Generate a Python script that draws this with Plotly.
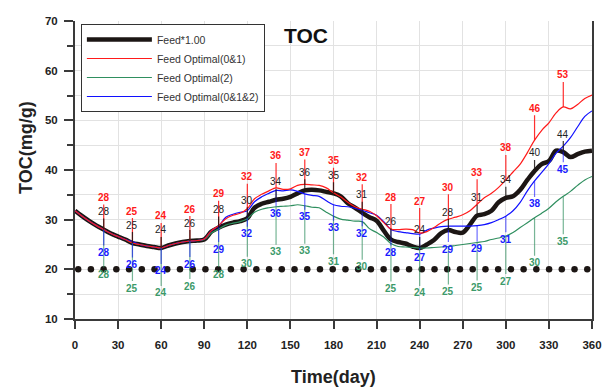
import numpy as np
import plotly.graph_objects as go

# Sampling days (every 5 days over one year)
days = list(range(0, 361, 5))

# TOC (mg/g) for each feeding strategy
feed_base = [31.8, 30.7, 29.7, 28.8, 28.0, 27.2, 26.6, 26.0, 25.3, 25.0,
             24.7, 24.5, 24.3, 24.8, 25.2, 25.5, 25.7, 25.8, 26.0, 27.6,
             28.4, 29.0, 29.4, 29.7, 30.3, 32.4, 33.2, 33.6, 34.0, 34.2,
             34.6, 35.3, 35.9, 36.0, 35.9, 35.6, 35.3, 34.7, 33.3, 32.4,
             31.4, 30.5, 29.8, 27.8, 26.0, 25.5, 25.2, 24.6, 24.3, 25.0,
             25.9, 27.3, 27.9, 27.5, 27.4, 29.0, 30.8, 31.1, 31.8, 33.5,
             34.4, 34.7, 36.0, 38.0, 39.8, 41.2, 41.8, 43.9, 43.6, 42.6,
             43.2, 43.7, 43.9]

feed_opt_01 = [31.8, 30.7, 29.7, 28.8, 28.0, 27.2, 26.6, 26.0, 25.3, 25.0,
               24.7, 24.5, 24.3, 24.8, 25.2, 25.5, 25.7, 25.8, 26.1, 27.8,
               28.8, 30.2, 30.9, 31.3, 32.2, 34.2, 35.1, 35.8, 36.4, 36.1,
               36.2, 36.9, 37.1, 37.0, 36.9, 36.4, 35.4, 34.6, 33.5, 32.6,
               32.1, 31.7, 30.8, 29.4, 28.1, 28.0, 28.1, 28.0, 27.3, 27.6,
               28.4, 29.4, 30.1, 30.5, 31.0, 31.8, 33.1, 34.4, 35.3, 36.5,
               38.0, 39.6, 41.2, 43.5, 46.0, 48.0, 49.5, 51.5, 52.7, 52.3,
               53.2, 54.4, 55.1]

feed_opt_2 = [31.8, 30.7, 29.7, 28.8, 28.0, 27.2, 26.6, 26.0, 25.3, 25.0,
              24.7, 24.5, 24.3, 24.8, 25.2, 25.5, 25.7, 25.8, 26.0, 27.3,
              28.1, 28.9, 29.3, 29.6, 30.2, 31.5, 32.1, 32.4, 32.6, 32.7,
              32.8, 33.0, 32.8, 32.5, 32.4, 31.5, 30.7, 30.1, 29.9, 29.7,
              29.6, 28.2, 27.4, 26.5, 25.2, 24.6, 24.5, 24.4, 24.3, 24.3,
              24.4, 24.5, 24.6, 24.8, 25.0, 25.2, 25.4, 25.6, 26.0, 26.3,
              26.7, 27.4, 28.4, 29.4, 30.4, 31.3, 32.3, 33.6, 34.7, 35.7,
              36.9, 38.0, 38.7]

feed_opt_012 = [31.8, 30.7, 29.7, 28.8, 28.0, 27.2, 26.6, 26.0, 25.6, 25.0,
                24.7, 24.5, 24.3, 24.8, 25.2, 25.5, 25.7, 25.8, 26.1, 27.8,
                28.7, 30.5, 31.1, 31.5, 31.8, 33.6, 34.6, 35.3, 35.9, 35.8,
                36.0, 35.7, 35.2, 34.9, 34.7, 33.8, 33.0, 32.7, 32.6, 32.3,
                31.9, 31.4, 30.9, 29.6, 28.0, 27.6, 27.4, 27.2, 27.1, 27.9,
                28.3, 28.6, 28.7, 28.7, 28.7, 28.7, 28.8, 29.0, 29.4, 30.0,
                30.7, 31.8, 33.5, 35.8, 37.8, 39.5, 41.3, 43.4, 44.8, 46.5,
                48.7, 50.8, 51.9]

# Days at which values are annotated
label_days = list(range(20, 341, 20))

# Reference level drawn as a dotted line
threshold = 20.0
dot_days = np.linspace(2.2, 356.7, 41)

FONT = "Liberation Sans, Arial, sans-serif"
C_BLACK = "#1c1614"
C_RED = "#ff1a1a"
C_GREEN = "#2f8f5f"
C_BLUE = "#1010ff"

# plot-area geometry in pixels (used to place free text)
L, R, T, B = 75, 11, 21, 68
W, H = 613, 387
PW, PH = W - L - R, H - T - B


def px_x(px):
    return (px - L) / PW


def px_y(py):
    return (H - B - py) / PH


fig = go.Figure()

fig.add_trace(go.Scatter(
    x=dot_days, y=[threshold] * len(dot_days), mode="markers",
    marker=dict(size=6.5, color=C_BLACK), showlegend=False, hoverinfo="skip"))

fig.add_trace(go.Scatter(
    x=days, y=feed_base, mode="lines", name="Feed*1.00", legendrank=1,
    line=dict(color=C_BLACK, width=4.5, shape="spline", smoothing=1.0)))
fig.add_trace(go.Scatter(
    x=days, y=feed_opt_2, mode="lines", name="Feed Optimal(2)", legendrank=3,
    line=dict(color=C_GREEN, width=1.2, shape="spline", smoothing=1.0)))
fig.add_trace(go.Scatter(
    x=days, y=feed_opt_012, mode="lines", name="Feed Optimal(0&1&2)", legendrank=4,
    line=dict(color=C_BLUE, width=1.2, shape="spline", smoothing=1.0)))
fig.add_trace(go.Scatter(
    x=days, y=feed_opt_01, mode="lines", name="Feed Optimal(0&1)", legendrank=2,
    line=dict(color=C_RED, width=1.2, shape="spline", smoothing=1.0)))

# Value labels on stems: (series, text colour, stem colour, pixel offset, bold)
label_specs = [
    (feed_opt_2, "#3c9a6a", "rgba(47,143,95,0.65)", 45, True),
    (feed_opt_012, "#1a1aff", "rgba(16,16,255,0.6)", 23, True),
    (feed_opt_01, "#ff1a1a", "rgba(255,26,26,0.9)", -32, True),
    (feed_base, "#222222", "rgba(28,22,20,0.85)", -18, False),
]

annotations = []
for series, tcol, scol, off, bold in label_specs:
    for d in label_days:
        v = series[days.index(d)]
        annotations.append(dict(
            x=d, y=v, xref="x", yref="y", text=f"{v:.0f}",
            showarrow=True, arrowhead=0, arrowwidth=1.2, arrowcolor=scol,
            ax=0, ay=off, standoff=0, startstandoff=0,
            font=dict(family=FONT, size=10, color=tcol,
                      weight="bold" if bold else "normal")))

annotations += [
    dict(text="TOC", xref="paper", yref="paper", x=px_x(310), y=px_y(35),
         xanchor="center", yanchor="middle", showarrow=False,
         font=dict(family=FONT, size=21, color="#111111", weight="bold")),
    dict(text="TOC(mg/g)", xref="paper", yref="paper", x=px_x(25), y=px_y(147),
         xanchor="center", yanchor="middle", showarrow=False, textangle=-90,
         font=dict(family=FONT, size=18, color="#222222", weight="bold")),
    dict(text="Time(day)", xref="paper", yref="paper", x=px_x(338), y=px_y(377),
         xanchor="center", yanchor="middle", showarrow=False,
         font=dict(family=FONT, size=18, color="#222222", weight="bold")),
]

fig.update_layout(
    width=W, height=H,
    margin=dict(l=L, r=R, t=T, b=B),
    paper_bgcolor="white", plot_bgcolor="white",
    font=dict(family=FONT, color="#222222"),
    annotations=annotations,
    legend=dict(
        x=px_x(81), y=px_y(24), xanchor="left", yanchor="top",
        bgcolor="white", bordercolor="#333333", borderwidth=1,
        font=dict(family=FONT, size=10.5, color="#333333"),
        itemwidth=65, tracegroupgap=0,
    ),
    xaxis=dict(
        range=[0, 360], tickmode="array", tickvals=list(range(0, 361, 30)),
        showgrid=True, gridcolor="#e2e2e2", gridwidth=1, zeroline=False,
        showline=True, linecolor="#3a3a3a", linewidth=2,
        ticks="outside", ticklen=8, tickwidth=1.5, tickcolor="#3a3a3a",
        ticklabelstandoff=6,
        tickfont=dict(family=FONT, size=11.5, color="#222222", weight="bold"),
    ),
    yaxis=dict(
        range=[10, 70], tickmode="linear", tick0=10, dtick=10,
        showgrid=True, gridcolor="#e2e2e2", gridwidth=1, zeroline=False,
        showline=True, linecolor="#3a3a3a", linewidth=2, mirror=True,
        ticks="outside", ticklen=9, tickwidth=1.5, tickcolor="#3a3a3a",
        ticklabelstandoff=4,
        tickfont=dict(family=FONT, size=11.5, color="#222222", weight="bold"),
        minor=dict(dtick=5, ticks="outside", ticklen=6, tickwidth=1.5,
                   tickcolor="#3a3a3a", showgrid=True, gridcolor="#e2e2e2"),
    ),
)

fig.write_html("out.html")
